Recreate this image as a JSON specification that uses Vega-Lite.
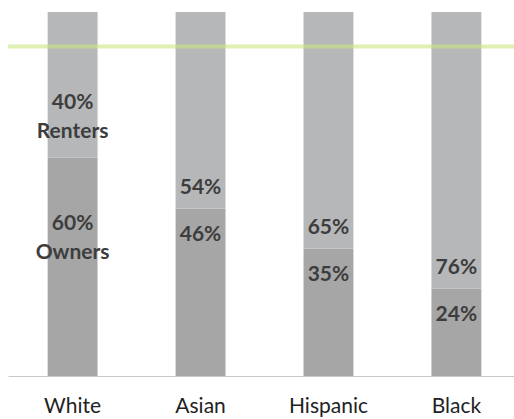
{
  "$schema": "https://vega.github.io/schema/vega-lite/v6.json",
  "width": 513,
  "height": 364,
  "autosize": {"type": "none"},
  "padding": {"left": 8, "top": 12, "right": 0, "bottom": 43},
  "background": "white",
  "config": {"view": {"stroke": null}},
  "data": {
    "values": [
      {"race": "White", "owners": 0.60, "renters": 0.40, "ownLabel": "60%\nOwners", "rentLabel": "40%\nRenters"},
      {"race": "Asian", "owners": 0.46, "renters": 0.54, "ownLabel": "46%", "rentLabel": "54%"},
      {"race": "Hispanic", "owners": 0.35, "renters": 0.65, "ownLabel": "35%", "rentLabel": "65%"},
      {"race": "Black", "owners": 0.24, "renters": 0.76, "ownLabel": "24%", "rentLabel": "76%"}
    ]
  },
  "layer": [
    {
      "transform": [{"fold": ["owners", "renters"], "as": ["tenure", "pct"]}],
      "mark": {"type": "bar"},
      "encoding": {
        "x": {
          "field": "race", "type": "nominal",
          "sort": ["White", "Asian", "Hispanic", "Black"],
          "scale": {"paddingInner": 0.61, "paddingOuter": 0.31},
          "axis": {
            "title": null, "labelAngle": 0, "ticks": false,
            "domainColor": "#c8c8c8", "domainWidth": 1,
            "labelFont": "Lato", "labelFontSize": 21, "labelColor": "#222222",
            "labelPadding": 19
          }
        },
        "y": {"field": "pct", "type": "quantitative", "stack": "zero", "scale": {"domain": [0, 1]}, "axis": null},
        "color": {"field": "tenure", "type": "nominal", "scale": {"domain": ["owners", "renters"], "range": ["#a6a6a6", "#b6b7b9"]}, "legend": null},
        "order": {"field": "tenure", "type": "nominal"}
      }
    },
    {
      "data": {"values": [{"level": 0.905}]},
      "mark": {"type": "rule", "color": "#c9e77f", "strokeWidth": 4, "opacity": 0.6},
      "encoding": {"y": {"field": "level", "type": "quantitative"}}
    },
    {
      "transform": [{"filter": "datum.race !== 'White'"}],
      "mark": {"type": "text", "font": "Lato", "fontWeight": "bold", "fontSize": 21, "color": "#3d3d3d", "baseline": "middle", "dy": -21},
      "encoding": {
        "x": {"field": "race", "type": "nominal", "sort": ["White", "Asian", "Hispanic", "Black"]},
        "y": {"field": "owners", "type": "quantitative"},
        "text": {"field": "rentLabel", "type": "nominal"}
      }
    },
    {
      "transform": [{"filter": "datum.race !== 'White'"}],
      "mark": {"type": "text", "font": "Lato", "fontWeight": "bold", "fontSize": 21, "color": "#3d3d3d", "baseline": "middle", "dy": 26},
      "encoding": {
        "x": {"field": "race", "type": "nominal", "sort": ["White", "Asian", "Hispanic", "Black"]},
        "y": {"field": "owners", "type": "quantitative"},
        "text": {"field": "ownLabel", "type": "nominal"}
      }
    },
    {
      "transform": [{"filter": "datum.race === 'White'"}],
      "mark": {"type": "text", "font": "Lato", "fontWeight": "bold", "fontSize": 21, "color": "#3d3d3d", "baseline": "middle", "lineBreak": "\n", "lineHeight": 29, "dy": -55},
      "encoding": {
        "x": {"field": "race", "type": "nominal", "sort": ["White", "Asian", "Hispanic", "Black"]},
        "y": {"field": "owners", "type": "quantitative"},
        "text": {"field": "rentLabel", "type": "nominal"}
      }
    },
    {
      "transform": [{"filter": "datum.race === 'White'"}],
      "mark": {"type": "text", "font": "Lato", "fontWeight": "bold", "fontSize": 21, "color": "#3d3d3d", "baseline": "middle", "lineBreak": "\n", "lineHeight": 29, "dy": 66},
      "encoding": {
        "x": {"field": "race", "type": "nominal", "sort": ["White", "Asian", "Hispanic", "Black"]},
        "y": {"field": "owners", "type": "quantitative"},
        "text": {"field": "ownLabel", "type": "nominal"}
      }
    }
  ]
}
